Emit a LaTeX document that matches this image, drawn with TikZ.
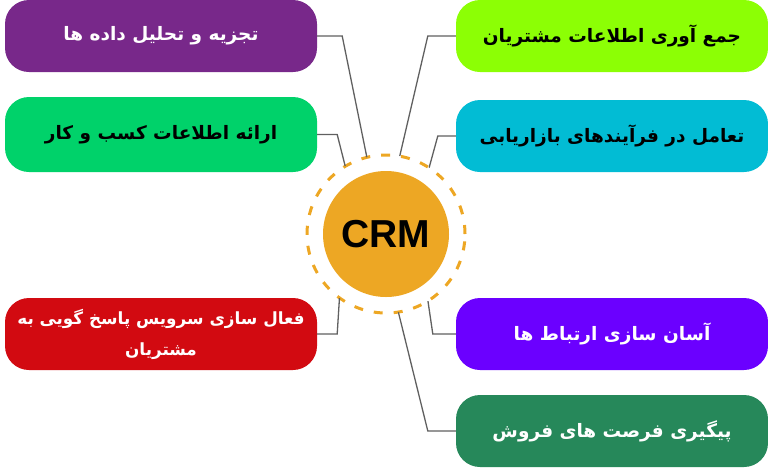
\documentclass[tikz,border=0pt]{standalone}
\usepackage{fontspec}
\setmainfont{Liberation Sans}
\newfontfamily\farsi[Script=Arabic]{DejaVu Sans}
\TeXXeTstate=1
\definecolor{purp}{HTML}{78288A}
\definecolor{mint}{HTML}{00D26A}
\definecolor{lime}{HTML}{8CFF05}
\definecolor{aqua}{HTML}{02BCD4}
\definecolor{crimson}{HTML}{D20A11}
\definecolor{violet}{HTML}{6B00FF}
\definecolor{forest}{HTML}{26885A}
\definecolor{amber}{HTML}{EDA724}
\definecolor{wire}{HTML}{606060}
\tikzset{
  item/.style={rounded corners=24pt, minimum width=312pt, minimum height=72pt, inner sep=0pt, align=center,
    font=\farsi\bfseries\fontsize{18.5}{31}\selectfont},
  link/.style={draw=wire, line width=1.3pt},
}
\begin{document}
\begin{tikzpicture}[x=1pt,y=-1pt]
\useasboundingbox (0,0) rectangle (768,467);

\node [circle, fill=amber, minimum size=126pt, inner sep=0pt, font=\bfseries\fontsize{39}{40}\selectfont] (crm) at (386,234) {CRM};
\coordinate (mid) at (386,234);
\draw [amber, line width=3pt, dash pattern=on 9pt off 11pt] (mid) circle [radius=79pt];
\node [circle, minimum size=158pt, inner sep=0pt] (ring) at (mid) {};

\node [item, fill=purp, text=white] (analysis) at (161,36) {\beginR تجزیه و تحلیل داده ها\endR};
\node [item, fill=mint, text=black, minimum height=75pt] (business) at (161,134.5) {\beginR ارائه اطلاعات کسب و کار\endR};
\node [item, fill=crimson, text=white, font=\farsi\bfseries\fontsize{16.8}{31}\selectfont] (service) at (161,334) {\beginR فعال سازی سرویس پاسخ گویی به\endR\\\beginR مشتریان\endR};

\node [item, fill=lime, text=black] (collect) at (612,36) {\beginR جمع آوری اطلاعات مشتریان\endR};
\node [item, fill=aqua, text=black] (marketing) at (612,136) {\beginR تعامل در فرآیندهای بازاریابی\endR};
\node [item, fill=violet, text=white] (relation) at (612,334) {\beginR آسان سازی ارتباط ها\endR};
\node [item, fill=forest, text=white] (sales) at (612,431) {\beginR پیگیری فرصت های فروش\endR};

\draw [link] (analysis.east) -- ++(25,0) -- (ring.104);
\draw [link] (business.east) -- ++(20,0) -- (ring.121);
\draw [link] (service.east) -- ++(20,0) -- (ring.234);
\draw [link] (collect.west) -- ++(-28,0) -- (ring.80);
\draw [link] (marketing.west) -- ++(-18,0) -- (ring.57);
\draw [link] (relation.west) -- ++(-23,0) -- (ring.302);
\draw [link] (sales.west) -- ++(-28,0) -- (ring.279);
\end{tikzpicture}
\end{document}
